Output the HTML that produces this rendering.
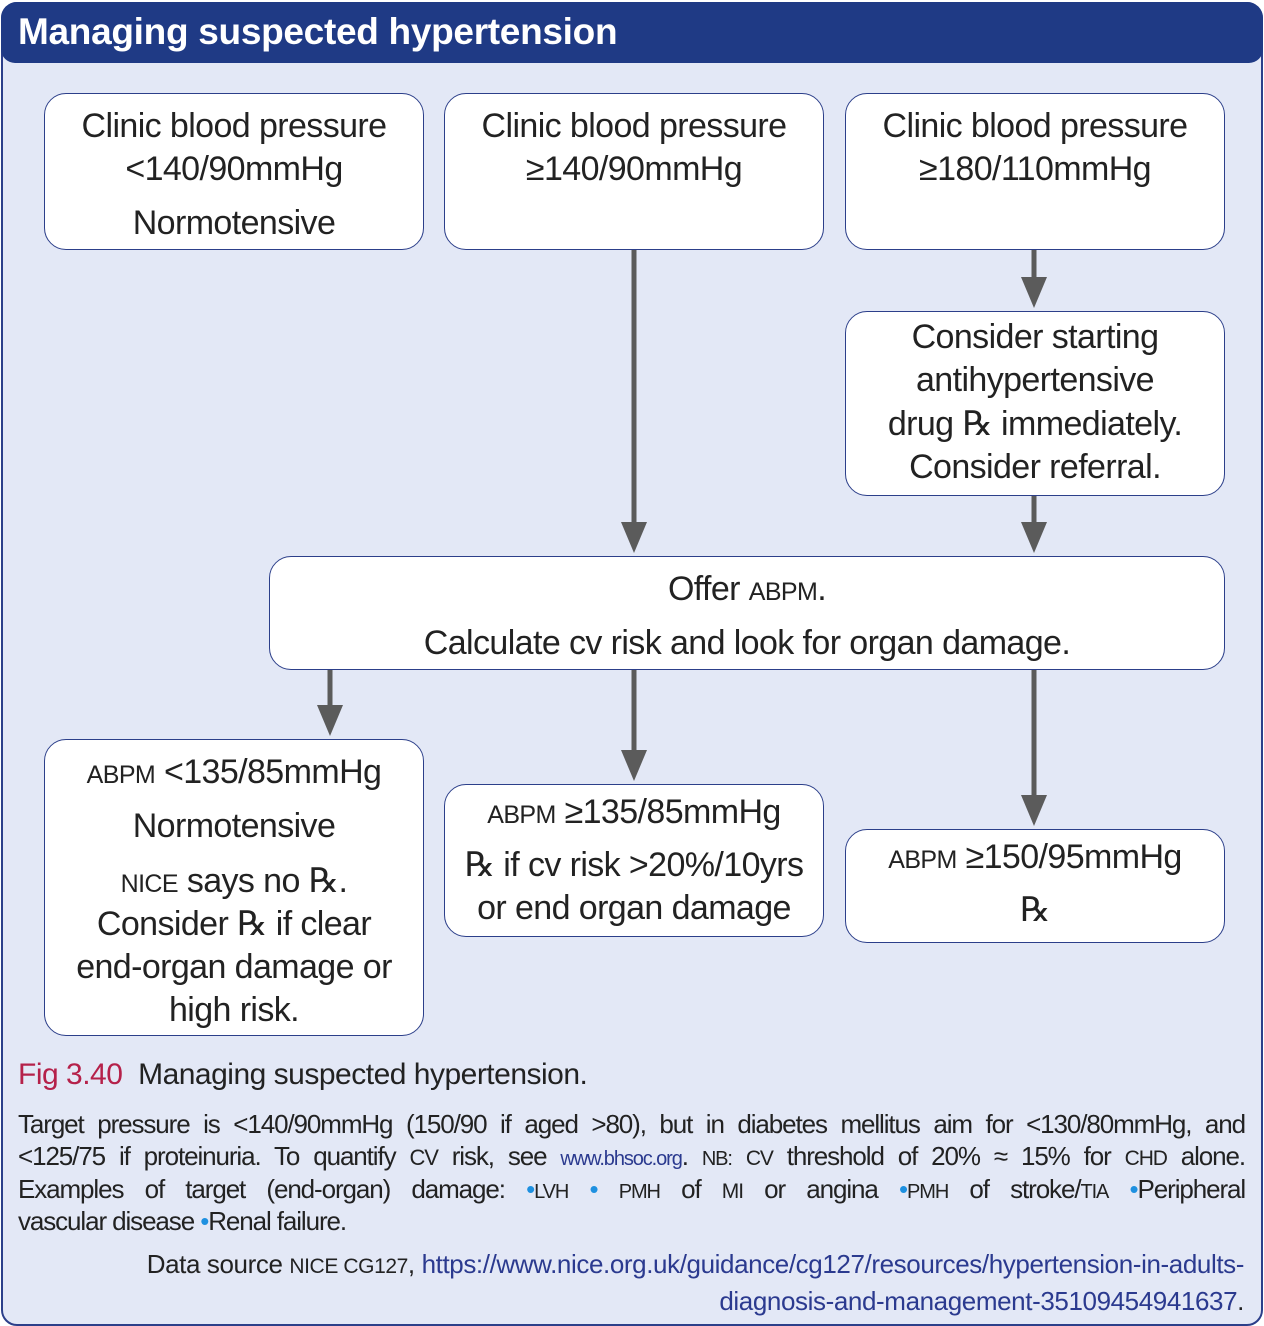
<!DOCTYPE html>
<html><head><meta charset="utf-8"><style>
body{margin:0;width:1264px;height:1326px;background:#fff;overflow:hidden;font-family:"Liberation Sans Narrow","Liberation Sans",sans-serif;}
#frame{position:absolute;left:1px;top:2px;width:1258px;height:1320px;background:#e3e8f6;border:2px solid #2c3f8a;border-radius:16px;}
#hdr{position:absolute;left:1px;top:2px;width:1262px;height:61px;background:#1f3a85;border-radius:16px 16px 14px 14px;}
#hdr span{position:absolute;left:17px;top:9px;color:#fff;font-weight:bold;font-size:37px;letter-spacing:-0.3px;}
.box{position:absolute;background:#fff;border:1.5px solid #2c3f8a;border-radius:22px;box-sizing:border-box;}
.ln{position:absolute;left:0;right:0;text-align:center;font-size:34px;color:#222;height:44px;line-height:44px;white-space:nowrap;letter-spacing:-0.6px;}
.sc{font-size:25px;}
.t{position:absolute;font-size:26px;color:#222;white-space:nowrap;line-height:32px;letter-spacing:-0.7px;}
.j{position:absolute;left:18px;width:1227px;font-size:26px;color:#222;line-height:32px;letter-spacing:-1.1px;text-align:justify;text-align-last:justify;white-space:normal;}
.lk{color:#2b3a8f;}
.b{color:#1e90e0;}
</style></head><body>
<div id="frame"></div>
<div id="hdr"><span>Managing suspected hypertension</span></div>

<svg width="1264" height="1326" style="position:absolute;left:0;top:0">
<g stroke="#5b5b5b" stroke-width="5" fill="#5b5b5b">
<line x1="634" y1="250" x2="634" y2="525"/><polygon stroke="none" points="621,522 647,522 634,553"/>
<line x1="1034" y1="250" x2="1034" y2="280"/><polygon stroke="none" points="1021,277 1047,277 1034,308"/>
<line x1="1034" y1="496" x2="1034" y2="525"/><polygon stroke="none" points="1021,522 1047,522 1034,553"/>
<line x1="330" y1="670" x2="330" y2="708"/><polygon stroke="none" points="317,705 343,705 330,736"/>
<line x1="634" y1="670" x2="634" y2="753"/><polygon stroke="none" points="621,750 647,750 634,781"/>
<line x1="1034" y1="670" x2="1034" y2="798"/><polygon stroke="none" points="1021,795 1047,795 1034,826"/>
</g></svg>

<div class="box" style="left:44px;top:93px;width:380px;height:157px">
<div class="ln" style="top:10px">Clinic blood pressure</div>
<div class="ln" style="top:53px">&lt;140/90mmHg</div>
<div class="ln" style="top:107px">Normotensive</div></div>

<div class="box" style="left:444px;top:93px;width:380px;height:157px">
<div class="ln" style="top:10px">Clinic blood pressure</div>
<div class="ln" style="top:53px">≥140/90mmHg</div></div>

<div class="box" style="left:845px;top:93px;width:380px;height:157px">
<div class="ln" style="top:10px">Clinic blood pressure</div>
<div class="ln" style="top:53px">≥180/110mmHg</div></div>

<div class="box" style="left:845px;top:311px;width:380px;height:185px">
<div class="ln" style="top:3px">Consider starting</div>
<div class="ln" style="top:46px">antihypertensive</div>
<div class="ln" style="top:90px">drug ℞ immediately.</div>
<div class="ln" style="top:133px">Consider referral.</div></div>

<div class="box" style="left:269px;top:556px;width:956px;height:114px">
<div class="ln" style="top:10px">Offer <span class="sc">ABPM</span>.</div>
<div class="ln" style="top:64px">Calculate cv risk and look for organ damage.</div></div>

<div class="box" style="left:44px;top:739px;width:380px;height:297px">
<div class="ln" style="top:10px"><span class="sc">ABPM</span> &lt;135/85mmHg</div>
<div class="ln" style="top:64px">Normotensive</div>
<div class="ln" style="top:119px"><span class="sc">NICE</span> says no ℞.</div>
<div class="ln" style="top:162px">Consider ℞ if clear</div>
<div class="ln" style="top:205px">end-organ damage or</div>
<div class="ln" style="top:248px">high risk.</div></div>

<div class="box" style="left:444px;top:784px;width:380px;height:153px">
<div class="ln" style="top:5px"><span class="sc">ABPM</span> ≥135/85mmHg</div>
<div class="ln" style="top:58px">℞ if cv risk &gt;20%/10yrs</div>
<div class="ln" style="top:101px">or end organ damage</div></div>

<div class="box" style="left:845px;top:829px;width:380px;height:114px">
<div class="ln" style="top:5px"><span class="sc">ABPM</span> ≥150/95mmHg</div>
<div class="ln" style="top:58px">℞</div></div>

<div class="t" style="left:18px;top:1057px;font-size:30px;line-height:36px;letter-spacing:-0.5px"><span style="color:#b5214a">Fig 3.40</span>&nbsp;&nbsp;Managing suspected hypertension.</div>
<div>
<div class="j" style="top:1108px">Target pressure is &lt;140/90mmHg (150/90 if aged &gt;80), but in diabetes mellitus aim for &lt;130/80mmHg, and</div>
<div class="j" style="top:1140px">&lt;125/75 if proteinuria. To quantify <span style="font-size:22px">CV</span> risk, see <span class="lk" style="font-size:20px">www.bhsoc.org</span>. <span style="font-size:20px">NB:</span> <span style="font-size:21px">CV</span> threshold of 20% ≈ 15% for <span style="font-size:21px">CHD</span> alone.</div>
<div class="j" style="top:1173px">Examples of target (end-organ) damage: <span class="b">•</span><span style="font-size:20px">LVH</span> <span class="b">•</span> <span style="font-size:20px">PMH</span> of <span style="font-size:21px">MI</span> or angina <span class="b">•</span><span style="font-size:20px">PMH</span> of stroke/<span style="font-size:20px">TIA</span> <span class="b">•</span>Peripheral</div>
<div class="j" style="top:1205px;text-align-last:left">vascular disease <span class="b">•</span>Renal failure.</div>
</div>
<div class="t" style="right:20px;top:1247px;text-align:right;line-height:35px;letter-spacing:-0.4px">Data source <span style="font-size:21px">NICE CG127</span>, <span class="lk">https://www.nice.org.uk/guidance/cg127/resources/hypertension-in-adults-</span><br><span class="lk">diagnosis-and-management-35109454941637</span>.</div>
</body></html>
